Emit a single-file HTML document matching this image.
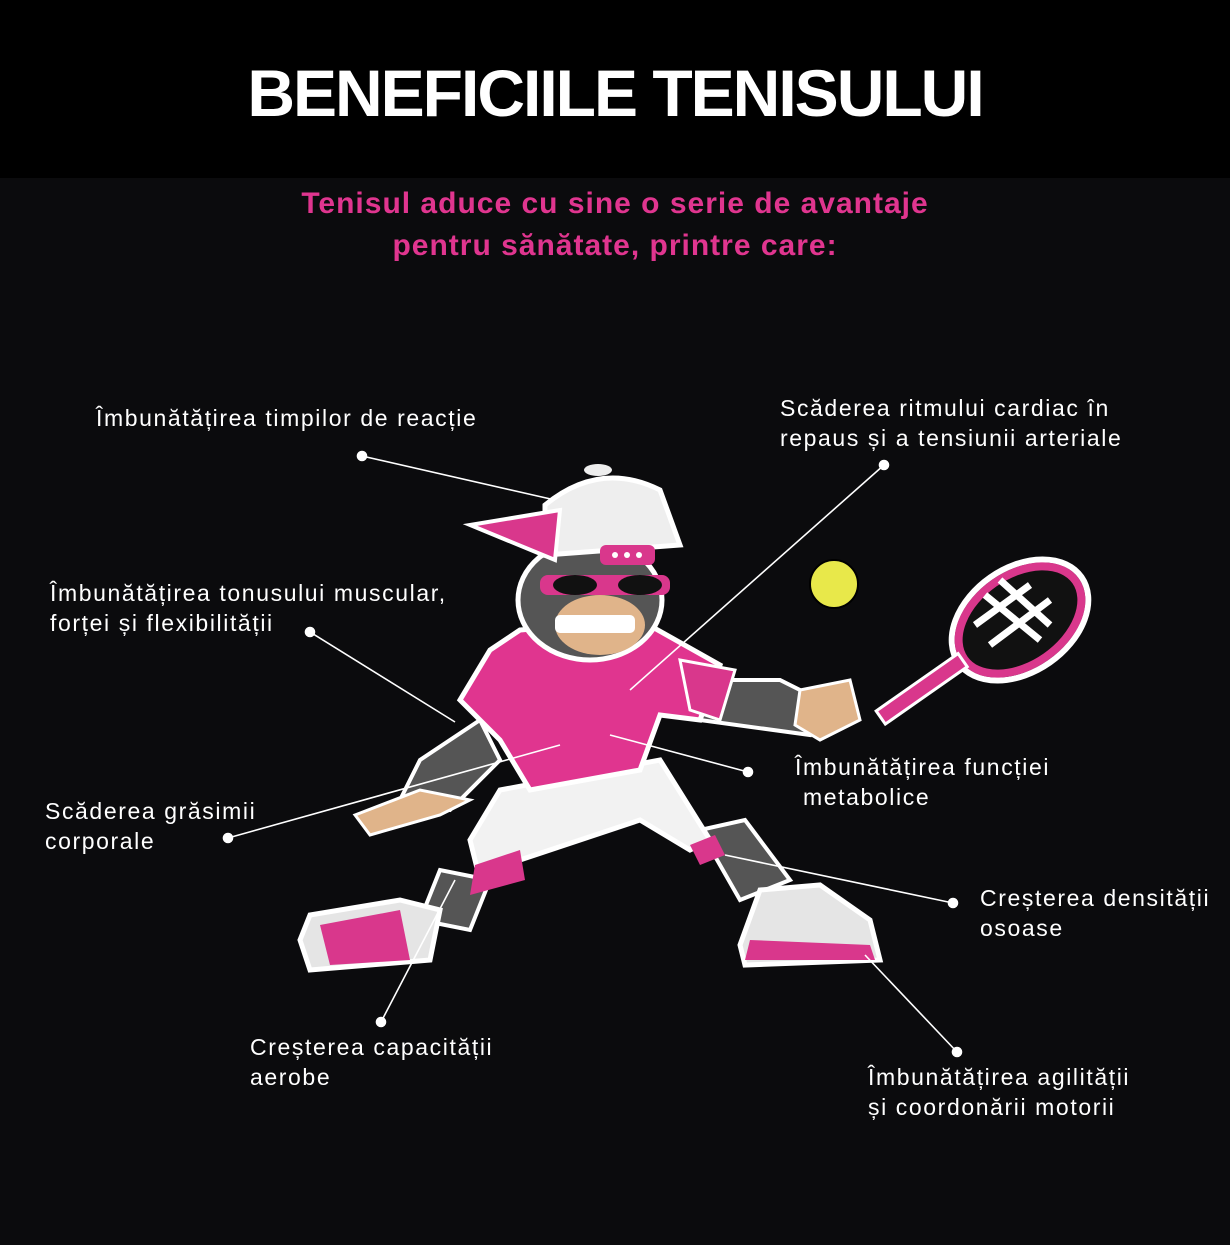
<!DOCTYPE html>
<html><head><meta charset="utf-8"><style>
html,body{margin:0;padding:0}
body{width:1230px;height:1245px;background:#0b0b0d;position:relative;overflow:hidden;font-family:"Liberation Sans",sans-serif}
.hdr{position:absolute;left:0;top:0;width:1230px;height:178px;background:#000}
.title{position:absolute;left:0;width:1230px;top:55px;text-align:center;color:#fff;font-weight:bold;font-size:66px;letter-spacing:-2px}
.sub{position:absolute;left:0;width:1230px;top:183px;text-align:center;color:#e0358f;font-weight:bold;font-size:30px;line-height:42px;letter-spacing:1px}
.lb{position:absolute;color:#fff;font-size:23px;line-height:30px;letter-spacing:1.6px;white-space:nowrap}
svg{position:absolute;left:0;top:0}
</style></head><body>
<div class="hdr"></div>
<div class="title">BENEFICIILE TENISULUI</div>
<div class="sub">Tenisul aduce cu sine o serie de avantaje<br>pentru sănătate, printre care:</div>
<svg width="1230" height="1245" viewBox="0 0 1230 1245">
<g transform="rotate(-35 1020 620)">
<ellipse cx="1020" cy="620" rx="75" ry="52" fill="#0b0b0d" stroke="#fff" stroke-width="6"/>
<ellipse cx="1020" cy="620" rx="68" ry="45" fill="#111" stroke="#d9378c" stroke-width="8"/>
<rect x="850" y="612" width="100" height="16" fill="#d9378c" stroke="#fff" stroke-width="3"/>
</g>
<path d="M985 595 L1040 640 M1000 580 L1050 625 M975 625 L1030 585 M990 645 L1050 600" stroke="#fff" stroke-width="7"/>
<circle cx="834" cy="584" r="24" fill="#e8e84a" stroke="#000" stroke-width="2"/>
<path d="M440 870 L420 920 L470 930 L490 880Z" fill="#555" stroke="#fff" stroke-width="4"/>
<path d="M700 830 L740 900 L790 880 L745 820Z" fill="#555" stroke="#fff" stroke-width="4"/>
<path d="M300 940 L310 915 L400 900 L440 910 L430 960 L310 970Z" fill="#e5e5e5" stroke="#fff" stroke-width="5"/>
<path d="M320 925 L400 910 L410 960 L330 965Z" fill="#d9378c"/>
<path d="M740 945 L760 890 L820 885 L870 920 L880 960 L745 965Z" fill="#e5e5e5" stroke="#fff" stroke-width="5"/>
<path d="M750 940 L870 945 L875 960 L745 960Z" fill="#d9378c"/>
<path d="M500 790 L660 760 L710 840 L690 850 L640 820 L520 860 L480 880 L470 840Z" fill="#f2f2f2" stroke="#fff" stroke-width="5"/>
<path d="M475 865 L520 850 L525 880 L470 895Z" fill="#d9378c"/>
<path d="M690 845 L715 835 L725 855 L700 865Z" fill="#d9378c"/>
<path d="M480 720 L420 760 L400 800 L450 810 L500 760Z" fill="#555" stroke="#fff" stroke-width="4"/>
<path d="M355 815 L420 790 L470 800 L440 815 L370 835Z" fill="#e0b48a" stroke="#fff" stroke-width="3"/>
<path d="M700 680 L780 680 L820 700 L810 735 L700 720Z" fill="#555" stroke="#fff" stroke-width="4"/>
<path d="M800 690 L850 680 L860 720 L820 740 L795 725Z" fill="#e0b48a" stroke="#fff" stroke-width="3"/>
<path d="M520 630 L640 620 L720 665 L700 720 L660 715 L640 770 L530 790 L500 740 L460 700 L490 650Z" fill="#e0358f" stroke="#fff" stroke-width="5"/>
<path d="M680 660 L735 670 L720 720 L690 710Z" fill="#d9378c" stroke="#fff" stroke-width="3"/>
<ellipse cx="590" cy="600" rx="72" ry="60" fill="#555" stroke="#fff" stroke-width="5"/>
<ellipse cx="600" cy="625" rx="45" ry="30" fill="#e0b48a"/>
<rect x="555" y="615" width="80" height="18" rx="5" fill="#fff"/>
<rect x="540" y="575" width="130" height="20" rx="8" fill="#d9378c"/>
<ellipse cx="575" cy="585" rx="22" ry="10" fill="#111"/>
<ellipse cx="640" cy="585" rx="22" ry="10" fill="#111"/>
<path d="M545 505 Q600 460 660 490 L680 545 L545 555Z" fill="#eee" stroke="#fff" stroke-width="5"/>
<path d="M470 525 L560 510 L555 560 Z" fill="#d9378c" stroke="#fff" stroke-width="4"/>
<rect x="600" y="545" width="55" height="20" rx="6" fill="#d9378c"/>
<circle cx="615" cy="555" r="3" fill="#fff"/><circle cx="627" cy="555" r="3" fill="#fff"/><circle cx="639" cy="555" r="3" fill="#fff"/>
<ellipse cx="598" cy="470" rx="14" ry="6" fill="#eee"/>
<g stroke="#fff" stroke-width="1.6" fill="#fff">
<line x1="362" y1="456" x2="555" y2="500"/><circle cx="362" cy="456" r="4.5"/>
<line x1="884" y1="465" x2="630" y2="690"/><circle cx="884" cy="465" r="4.5"/>
<line x1="310" y1="632" x2="455" y2="722"/><circle cx="310" cy="632" r="4.5"/>
<line x1="228" y1="838" x2="560" y2="745"/><circle cx="228" cy="838" r="4.5"/>
<line x1="748" y1="772" x2="610" y2="735"/><circle cx="748" cy="772" r="4.5"/>
<line x1="953" y1="903" x2="725" y2="855"/><circle cx="953" cy="903" r="4.5"/>
<line x1="381" y1="1022" x2="455" y2="880"/><circle cx="381" cy="1022" r="4.5"/>
<line x1="957" y1="1052" x2="865" y2="955"/><circle cx="957" cy="1052" r="4.5"/>
</g>
</svg>
<div class="lb" style="left:96px;top:403px">Îmbunătățirea timpilor de reacție</div>
<div class="lb" style="left:780px;top:393px">Scăderea ritmului cardiac în<br>repaus și a tensiunii arteriale</div>
<div class="lb" style="left:50px;top:578px">Îmbunătățirea tonusului muscular,<br>forței și flexibilității</div>
<div class="lb" style="left:45px;top:796px">Scăderea grăsimii<br>corporale</div>
<div class="lb" style="left:795px;top:752px">Îmbunătățirea funcției<br>&nbsp;metabolice</div>
<div class="lb" style="left:980px;top:883px">Creșterea densității<br>osoase</div>
<div class="lb" style="left:250px;top:1032px">Creșterea capacității<br>aerobe</div>
<div class="lb" style="left:868px;top:1062px">Îmbunătățirea agilității<br>și coordonării motorii</div>
</body></html>
